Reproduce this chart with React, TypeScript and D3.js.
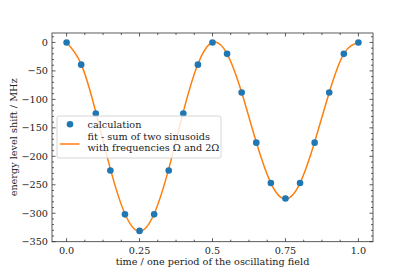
import React, { useEffect, useRef } from 'react';
import * as d3 from 'd3';

// calculated points
const times = [0, 0.05, 0.1, 0.15, 0.2, 0.25, 0.3, 0.35, 0.4, 0.45, 0.5, 0.55, 0.6, 0.65, 0.7, 0.75, 0.8, 0.85, 0.9, 0.95, 1.0];
const calcValues = [0, -39, -125, -225, -302, -331, -302, -225, -125, -39, 0, -20, -88, -176, -247, -274, -247, -176, -88, -20, 0];
// fit curve
const fitTimes = [0, 0.05, 0.1, 0.15, 0.2, 0.25, 0.3, 0.35, 0.4, 0.45, 0.5, 0.55, 0.6, 0.65, 0.7, 0.75, 0.8, 0.85, 0.9, 0.95, 1.0];
const fitValues = [0, -38, -122, -222, -301, -332, -301, -222, -122, -38, 0, -20, -88, -175, -247, -275, -247, -175, -88, -20, 0];

const xTicks = [0, 0.25, 0.5, 0.75, 1.0];
const xTickLabels = ['0.0', '0.25', '0.5', '0.75', '1.0'];
const yTicks = [0, -50, -100, -150, -200, -250, -300, -350];
const legendLabels = ['calculation', 'fit - sum of two sinusoids', 'with frequencies Ω and 2Ω'];

const App = () => {
  const svgRef = useRef<SVGSVGElement>(null);

  useEffect(() => {
    const margin = { top: 33, right: 42, bottom: 35.3, left: 52 };
    const W = 415, H = 277;
    const width = W - margin.left - margin.right;
    const height = H - margin.top - margin.bottom;
    const font = '"DejaVu Serif", serif';
    const fs = '9.7px';

    d3.select(svgRef.current).selectAll('*').remove();
    const svg = d3.select(svgRef.current)
      .attr('width', W)
      .attr('height', H);
    const g = svg.append('g').attr('transform', `translate(${margin.left},${margin.top})`);

    const x = d3.scaleLinear().domain([-0.05, 1.05]).range([0, width]);
    const y = d3.scaleLinear().domain([-350, 16.6]).range([height, 0]);

    const axisColor = '#333';

    // fit line
    const line = d3.line<number>()
      .x((d, i) => x(fitTimes[i]))
      .y(d => y(d))
      .curve(d3.curveNatural);
    g.append('path')
      .datum(fitValues)
      .attr('d', line)
      .attr('fill', 'none')
      .attr('stroke', '#ff7f0e')
      .attr('stroke-width', 1.5);

    // points
    g.selectAll('.pt')
      .data(calcValues)
      .enter().append('circle')
      .attr('class', 'pt')
      .attr('cx', (d, i) => x(times[i]))
      .attr('cy', d => y(d))
      .attr('r', 3.3)
      .attr('fill', '#1f77b4');

    // ticks (inward, all four sides)
    const xMinor = d3.range(-12, 17).map(k => k * 0.0625)
      .filter(v => v >= -0.05 && v <= 1.05 && !xTicks.some(t => Math.abs(t - v) < 1e-6));
    const yMinor = d3.range(-35, 2).map(k => k * 10)
      .filter(v => v >= -350 && v <= 16.6 && v % 50 !== 0);

    const ticks = g.append('g').attr('stroke', axisColor).attr('stroke-width', 0.8);
    const major = 3.5, minor = 2;
    xTicks.forEach(t => {
      ticks.append('line').attr('x1', x(t)).attr('x2', x(t)).attr('y1', height).attr('y2', height - major);
      ticks.append('line').attr('x1', x(t)).attr('x2', x(t)).attr('y1', 0).attr('y2', major);
    });
    xMinor.forEach(t => {
      ticks.append('line').attr('x1', x(t)).attr('x2', x(t)).attr('y1', height).attr('y2', height - minor);
      ticks.append('line').attr('x1', x(t)).attr('x2', x(t)).attr('y1', 0).attr('y2', minor);
    });
    yTicks.forEach(t => {
      ticks.append('line').attr('y1', y(t)).attr('y2', y(t)).attr('x1', 0).attr('x2', major);
      ticks.append('line').attr('y1', y(t)).attr('y2', y(t)).attr('x1', width).attr('x2', width - major);
    });
    yMinor.forEach(t => {
      ticks.append('line').attr('y1', y(t)).attr('y2', y(t)).attr('x1', 0).attr('x2', minor);
      ticks.append('line').attr('y1', y(t)).attr('y2', y(t)).attr('x1', width).attr('x2', width - minor);
    });

    // frame
    g.append('rect')
      .attr('width', width).attr('height', height)
      .attr('fill', 'none').attr('stroke', axisColor).attr('stroke-width', 0.8);

    // tick labels
    g.selectAll('.xl')
      .data(xTicks)
      .enter().append('text')
      .attr('x', d => x(d))
      .attr('y', height + 12.5)
      .attr('text-anchor', 'middle')
      .style('font-family', font).style('font-size', fs).attr('fill', '#222')
      .text((d, i) => xTickLabels[i]);

    g.selectAll('.yl')
      .data(yTicks)
      .enter().append('text')
      .attr('x', -4)
      .attr('y', d => y(d))
      .attr('dy', '0.35em')
      .attr('text-anchor', 'end')
      .style('font-family', font).style('font-size', fs).attr('fill', '#222')
      .text(d => d === 0 ? '0' : '\u2212' + Math.abs(d));

    // axis labels
    g.append('text')
      .attr('x', width / 2)
      .attr('y', height + 23.3)
      .attr('text-anchor', 'middle')
      .style('font-family', font).style('font-size', fs).attr('fill', '#222')
      .text('time / one period of the oscillating field');

    g.append('text')
      .attr('transform', `translate(${13.5 - margin.left},${height / 2}) rotate(-90)`)
      .attr('text-anchor', 'middle')
      .attr('dy', '0.35em')
      .style('font-family', font).style('font-size', fs).attr('fill', '#222')
      .text('energy level shift / MHz');

    // legend
    const lg = svg.append('g').attr('transform', 'translate(57,116)');
    lg.append('rect')
      .attr('width', 164).attr('height', 42).attr('rx', 2)
      .attr('fill', 'white').attr('fill-opacity', 0.8)
      .attr('stroke', '#ccc').attr('stroke-width', 0.8);
    lg.append('circle').attr('cx', 13).attr('cy', 8.3).attr('r', 3.3).attr('fill', '#1f77b4');
    lg.append('line').attr('x1', 3).attr('x2', 22.5).attr('y1', 28).attr('y2', 28)
      .attr('stroke', '#ff7f0e').attr('stroke-width', 1.5);
    legendLabels.forEach((t, i) => {
      lg.append('text')
        .attr('x', 30.5)
        .attr('y', [8.3, 21, 31.3][i])
        .attr('dy', '0.35em')
        .style('font-family', font).style('font-size', fs).attr('fill', '#222')
        .text(t);
    });
  }, []);

  return <svg ref={svgRef} style={{ position: 'absolute', left: 0, top: 0 }}></svg>;
};

export default App;
